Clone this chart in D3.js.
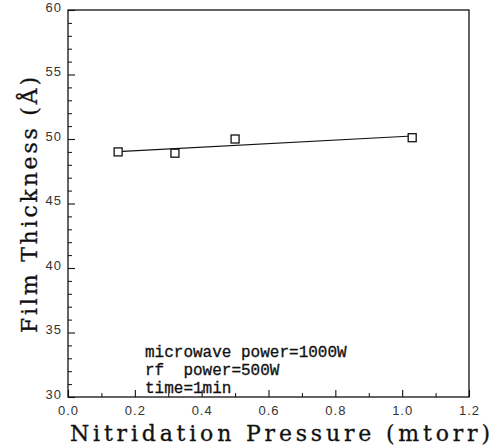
<!DOCTYPE html>
<html>
<head>
<meta charset="utf-8">
<script src="https://cdn.jsdelivr.net/npm/d3@7"></script>
<style>
  html, body { margin: 0; padding: 0; background: #fff; }
  svg { display: block; }
</style>
</head>
<body>
<script>
// Film thickness vs. nitridation pressure
const pressure = [0.15, 0.32, 0.50, 1.03];      // mtorr
const thickness = [49.0, 48.9, 50.0, 50.1];     // Å
const xTicks = [0.0, 0.2, 0.4, 0.6, 0.8, 1.0, 1.2];
const yTicks = [30, 35, 40, 45, 50, 55, 60];
const notes = ["microwave power=1000W", "rf  power=500W", "time=1min"];

const W = 492, H = 446;
const m = { left: 68, right: 469, top: 10, bottom: 397 };

const svg = d3.select("body").append("svg").attr("width", W).attr("height", H);

const x = d3.scaleLinear().domain([0, 1.2]).range([m.left, m.right]);
const y = d3.scaleLinear().domain([30, 60]).range([m.bottom, m.top]);

// frame
svg.append("rect")
  .attr("x", m.left).attr("y", m.top)
  .attr("width", m.right - m.left).attr("height", m.bottom - m.top)
  .attr("fill", "none").attr("stroke", "#111").attr("stroke-width", 1.3);

const tickFont = "'Liberation Sans', Arial, sans-serif";

// x axis: inward ticks, minor every 0.1
const xAxis = d3.axisBottom(x).tickValues(xTicks).tickFormat(d3.format(".1f"))
  .tickSizeInner(-7).tickSizeOuter(0).tickPadding(9);
const gx = svg.append("g").attr("transform", `translate(0,${m.bottom})`).call(xAxis);
gx.select(".domain").remove();
gx.selectAll("line").attr("stroke", "#111").attr("stroke-width", 1.1);
gx.selectAll("text").attr("font-family", tickFont).attr("font-size", 13)
  .attr("fill", "#333").attr("letter-spacing", 1);
const gxm = svg.append("g").attr("transform", `translate(0,${m.bottom})`)
  .call(d3.axisBottom(x).tickValues(d3.range(0.1, 1.2, 0.2)).tickSizeInner(-4).tickSizeOuter(0).tickFormat(""));
gxm.select(".domain").remove();
gxm.selectAll("line").attr("stroke", "#111");

// y axis: inward ticks, minor every 1
const yAxis = d3.axisLeft(y).tickValues(yTicks).tickFormat(d3.format("d"))
  .tickSizeInner(-7).tickSizeOuter(0).tickPadding(6);
const gy = svg.append("g").attr("transform", `translate(${m.left},0)`).call(yAxis);
gy.select(".domain").remove();
gy.selectAll("line").attr("stroke", "#111").attr("stroke-width", 1.1);
gy.selectAll("text").attr("font-family", tickFont).attr("font-size", 13)
  .attr("fill", "#333").attr("dy", "0.1em").attr("letter-spacing", 1);
const gym = svg.append("g").attr("transform", `translate(${m.left},0)`)
  .call(d3.axisLeft(y).tickValues(d3.range(30, 61).filter(v => v % 5 !== 0))
    .tickSizeInner(-4).tickSizeOuter(0).tickFormat(""));
gym.select(".domain").remove();
gym.selectAll("line").attr("stroke", "#111");

// least-squares line through the measurements
const mx = d3.mean(pressure), my = d3.mean(thickness);
const slope = d3.sum(pressure, (p, i) => (p - mx) * (thickness[i] - my)) /
              d3.sum(pressure, p => (p - mx) ** 2);
const fit = p => my + slope * (p - mx);
const [x0, x1] = d3.extent(pressure);
svg.append("path")
  .datum([x0, x1])
  .attr("d", d3.line().x(p => x(p)).y(p => y(fit(p))))
  .attr("fill", "none").attr("stroke", "#111").attr("stroke-width", 1.2);

// open square markers
const s = 8;
svg.append("g").selectAll("rect")
  .data(pressure.map((p, i) => [p, thickness[i]]))
  .join("rect")
  .attr("x", d => x(d[0]) - s / 2).attr("y", d => y(d[1]) - s / 2)
  .attr("width", s).attr("height", s)
  .attr("fill", "#fff").attr("stroke", "#111").attr("stroke-width", 1.3);

// conditions
const serif = "'DejaVu Serif', 'Liberation Serif', serif";
svg.append("g").selectAll("text").data(notes).join("text")
  .attr("x", 145).attr("y", (d, i) => 357 + i * 18)
  .attr("font-family", "'Liberation Mono', 'DejaVu Sans Mono', monospace")
  .attr("font-size", 16).attr("fill", "#111").attr("stroke", "#111").attr("stroke-width", 0.3)
  .style("white-space", "pre").attr("xml:space", "preserve")
  .text(d => d);

// axis titles
svg.append("text")
  .attr("x", 70).attr("y", 441)
  .attr("font-family", serif).attr("font-size", 22).attr("fill", "#111")
  .attr("stroke", "#111").attr("stroke-width", 0.3)
  .attr("textLength", 420).attr("lengthAdjust", "spacing")
  .text("Nitridation Pressure (mtorr)");

svg.append("text")
  .attr("transform", "translate(37,333) rotate(-90)")
  .attr("font-family", serif).attr("font-size", 22).attr("fill", "#111")
  .attr("stroke", "#111").attr("stroke-width", 0.3)
  .attr("textLength", 256).attr("lengthAdjust", "spacing")
  .text("Film Thickness (Å)");
</script>
</body>
</html>
